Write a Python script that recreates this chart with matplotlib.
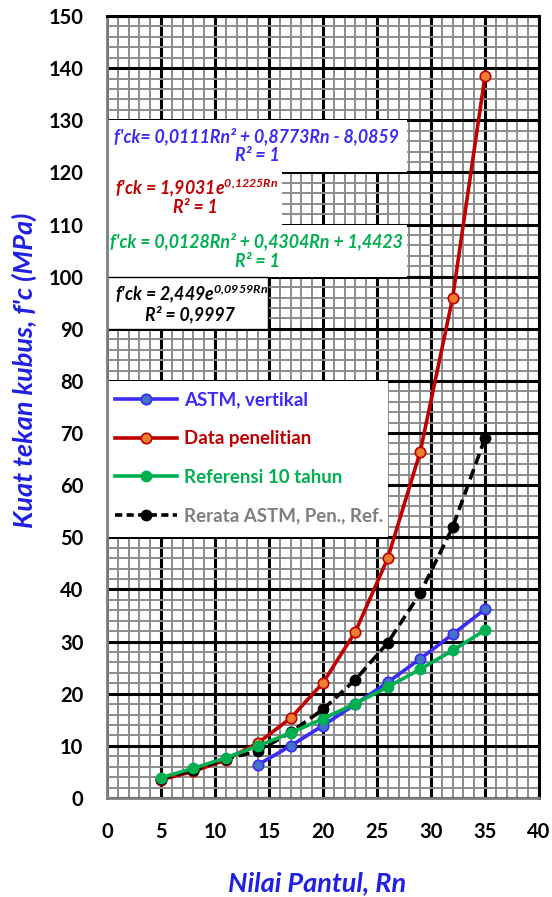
import matplotlib
matplotlib.use("Agg")
import matplotlib.pyplot as plt
from matplotlib.patches import Rectangle
from matplotlib.ticker import MultipleLocator
from matplotlib.lines import Line2D

# ---------------- data ----------------
rn_astm = [14, 17, 20, 23, 26, 29, 32, 35]
fc_astm = [6.4, 10.0, 13.9, 18.0, 22.2, 26.7, 31.4, 36.2]

rn_all = [5, 8, 11, 14, 17, 20, 23, 26, 29, 32, 35]
fc_pen = [3.5, 5.1, 7.3, 10.6, 15.3, 22.1, 31.9, 46.0, 66.4, 95.9, 138.5]
fc_ref = [3.9, 5.7, 7.7, 10.0, 12.5, 15.2, 18.1, 21.3, 24.7, 28.3, 32.2]
fc_avg = [3.7, 5.4, 7.5, 9.0, 12.6, 17.0, 22.7, 29.8, 39.3, 51.9, 69.0]

labels = ["ASTM, vertikal", "Data penelitian", "Referensi 10 tahun",
          "Rerata ASTM, Pen., Ref."]
eq_texts = [
    ("f'ck= 0,0111Rn² + 0,8773Rn - 8,0859", "R² = 1"),
    ("f'ck = 1,9031e$^{0{,}1225Rn}$", "R² = 1"),
    ("f'ck = 0,0128Rn² + 0,4304Rn + 1,4423", "R² = 1"),
    ("f'ck = 2,449e$^{0{,}0959Rn}$", "R² = 0,9997"),
]
xticks = [0, 5, 10, 15, 20, 25, 30, 35, 40]
yticks = list(range(0, 151, 10))

# ---------------- style ----------------
plt.rcParams['font.family'] = ['Lato', 'DejaVu Sans']
plt.rcParams['mathtext.fontset'] = 'custom'
plt.rcParams['mathtext.rm'] = 'Lato:bold:italic'
plt.rcParams['mathtext.it'] = 'Lato:bold:italic'
plt.rcParams['mathtext.bf'] = 'Lato:bold:italic'

C_BLUE = '#3B2BF5'
C_BLUE_FACE = '#4472C4'
C_RED = '#C00000'
C_RED_FACE = '#ED7D31'
C_GREEN = '#00B050'
C_BLACK = '#000000'
C_GREY = '#7F7F7F'
C_AX = '#1F1FE6'

fig = plt.figure(figsize=(5.52, 8.97), dpi=100)
ax = fig.add_axes([107/552, 1-798/897, (539-107)/552, (798-16)/897])

ax.set_xlim(0, 40)
ax.set_ylim(0, 150)
ax.xaxis.set_major_locator(MultipleLocator(5))
ax.xaxis.set_minor_locator(MultipleLocator(1))
ax.yaxis.set_major_locator(MultipleLocator(10))
ax.yaxis.set_minor_locator(MultipleLocator(2))
ax.set_xticks(xticks)
ax.set_yticks(yticks)
ax.grid(which='minor', color='#8C8C8C', lw=1.4, zorder=0)
ax.grid(which='major', color='black', lw=2.2, zorder=0)
ax.set_axisbelow(True)

for s in ['top', 'right']:
    ax.spines[s].set_color('black')
    ax.spines[s].set_linewidth(2.2)
for s in ['left', 'bottom']:
    ax.spines[s].set_color('#7F7F7F')
    ax.spines[s].set_linewidth(2)

ax.tick_params(axis='both', which='both', length=0)
ax.tick_params(axis='y', which='major', pad=17)
ax.tick_params(axis='x', which='major', pad=17)
for lab in ax.get_xticklabels() + ax.get_yticklabels():
    lab.set_fontweight('bold')
    lab.set_fontsize(14.5)
    lab.set_color('black')

# white boxes for equations (data coordinates)
boxes = [(0, 120, 27.8, 10, 'none'), (0, 110, 16.2, 10, 'none'),
         (0, 100, 27.8, 10, 'none'), (0, 90, 14.9, 10, 'black')]
for (x0, y0, w, h, ec) in boxes:
    ax.add_patch(Rectangle((x0, y0), w, h, facecolor='white', edgecolor=ec,
                           lw=1.0, zorder=1.5))
# legend box
ax.add_patch(Rectangle((0, 50), 26, 30, facecolor='white', edgecolor='none', zorder=1.5))

eq_colors = [C_BLUE, C_RED, C_GREEN, C_BLACK]
eq_pos = [((13.8, 127.0), (13.9, 123.2)),
          ((8.3, 117.0), (8.2, 113.2)),
          ((13.8, 106.8), (13.9, 103.0)),
          ((7.8, 96.7), (7.7, 92.8))]
for (l1, l2), col, (p1, p2) in zip(eq_texts, eq_colors, eq_pos):
    ax.text(p1[0], p1[1], l1, color=col, fontsize=12.8, fontweight='bold', style='italic',
            ha='center', va='center', zorder=2)
    ax.text(p2[0], p2[1], l2, color=col, fontsize=12.8, fontweight='bold', style='italic',
            ha='center', va='center', zorder=2)

# series
ax.plot(rn_all, fc_pen, color=C_RED, lw=2.6, marker='o', ms=7.5,
        mfc=C_RED_FACE, mec=C_RED, mew=1.2, zorder=3, label=labels[1])
ax.plot(rn_astm, fc_astm, color=C_BLUE, lw=2.6, marker='o', ms=7.5,
        mfc=C_BLUE_FACE, mec=C_BLUE, mew=1.2, zorder=4, label=labels[0])
ax.plot(rn_all, fc_avg, color=C_BLACK, lw=2.6, ls=(0, (3, 1.5)), marker='o', ms=7.5,
        mfc=C_BLACK, mec=C_BLACK, zorder=5, label=labels[3])
ax.plot(rn_all, fc_ref, color=C_GREEN, lw=2.6, marker='o', ms=7.5,
        mfc=C_GREEN, mec=C_GREEN, zorder=6, label=labels[2])

handles = [
    Line2D([], [], color=C_BLUE, lw=2.6, marker='o', ms=7.5, mfc=C_BLUE_FACE, mec=C_BLUE, mew=1.2),
    Line2D([], [], color=C_RED, lw=2.6, marker='o', ms=7.5, mfc=C_RED_FACE, mec=C_RED, mew=1.2),
    Line2D([], [], color=C_GREEN, lw=2.6, marker='o', ms=7.5, mfc=C_GREEN, mec=C_GREEN),
    Line2D([], [], color=C_BLACK, lw=2.6, ls=(0, (2, 1.2)), marker='o', ms=7.5, mfc=C_BLACK, mec=C_BLACK),
]
leg = ax.legend(handles, labels, loc='center left', bbox_to_anchor=(0.75, 65.2),
                bbox_transform=ax.transData, frameon=False, borderpad=0,
                borderaxespad=0, handlelength=3.3, handletextpad=0.4,
                labelspacing=1.15, prop={'weight': 'bold', 'size': 13.5},
                labelcolor=[C_BLUE, C_RED, C_GREEN, C_GREY])
leg.set_zorder(7)

ax.set_xlabel('Nilai Pantul, Rn', color=C_AX, fontsize=19.5, fontweight='bold',
              style='italic', va='center')
ax.xaxis.set_label_coords(0.486, -0.109)
ax.set_ylabel("Kuat tekan kubus, f'c (MPa)", color=C_AX, fontsize=19.5,
              fontweight='bold', style='italic', va='center')
ax.yaxis.set_label_coords(-0.192, 0.547)

fig.savefig('out.png', dpi=100)
